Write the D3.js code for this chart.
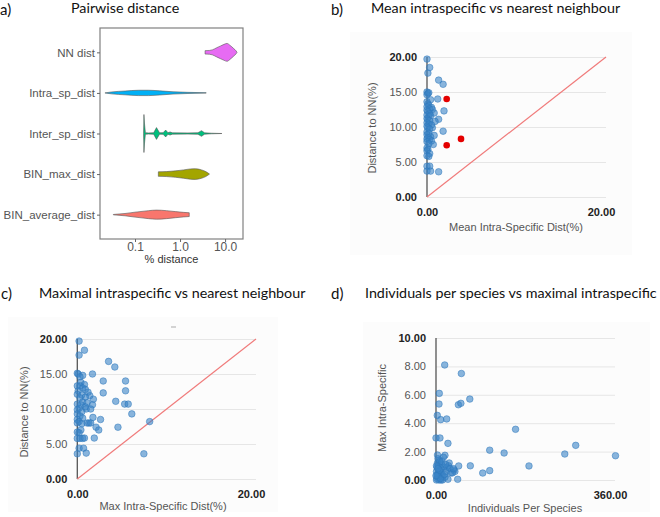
<!DOCTYPE html>
<html><head><meta charset="utf-8">
<script src="https://cdn.jsdelivr.net/npm/d3@7/dist/d3.min.js"></script>
<style>
body{margin:0;background:#fff;}
svg{display:block;}
</style></head>
<body><svg id="chart" width="660" height="517"></svg>
<script>
// ---------- Panel a: violin data (distance %, relative density) ----------
const violinCats = ["NN dist","Intra_sp_dist","Inter_sp_dist","BIN_max_dist","BIN_average_dist"];
const violinColors = ["#E76BF3","#00B0F6","#00BF7D","#A3A500","#F8766D"];
const nnDist   = [3.6,4.5,5.2,6.5,8,9.5,11,13,15.5,17.5,18.4];
const nnDens   = [0.09,0.1,0.13,0.24,0.34,0.42,0.47,0.36,0.2,0.08,0.0];
const intraDist= [0.0215,0.03,0.06,0.12,0.2,0.35,0.7,1.5,3.8];
const intraDens= [0.0,0.05,0.1,0.14,0.14,0.11,0.06,0.03,0.01];
const interDist= [0.155,0.158,0.162,0.17,0.2,0.26,0.3,0.35,0.42,0.48,0.54,0.6,0.68,1.5,2.5,3.0,3.5,5,8.5];
const interDens= [0.02,1.0,0.55,0.04,0.03,0.04,0.31,0.04,0.04,0.18,0.04,0.08,0.035,0.03,0.04,0.15,0.035,0.015,0.0];
const binMaxDist=[0.33,0.5,0.8,1.2,1.7,2.2,3.0,3.8,4.5];
const binMaxDens=[0.12,0.13,0.17,0.22,0.27,0.28,0.22,0.12,0.0];
const binAvgDist=[0.033,0.06,0.1,0.2,0.3,0.5,0.8,1.2,1.6];
const binAvgDens=[0.01,0.06,0.13,0.21,0.24,0.21,0.16,0.12,0.1];
const violinX = [nnDist,intraDist,interDist,binMaxDist,binAvgDist];
const violinD = [nnDens,intraDens,interDens,binMaxDens,binAvgDens];
const logTicks = [0.1,1,10];

// ---------- Panel b: mean intra vs NN ----------
const bMean = [0.0,0.3,0.1,1.3,1.8,0.0,0.1,0.0,0.2,1.2,0.4,0.0,0.1,0.2,0.0,0.5,0.3,0.0,0.6,1.9,0.1,0.8,0.3,0.0,0.2,0.4,1.3,0.0,0.1,0.9,0.3,0.0,0.2,0.5,0.0,0.1,0.6,0.3,1.8,0.0,0.2,0.0,0.8,0.4,0.1,0.0,0.3,0.5,0.0,0.7,0.2,0.0,0.1,0.0,0.3,0.0,0.2,0.0,0.3,0.0,0.4,1.3];
const bNN   = [19.7,18.5,17.7,16.7,16.1,15.0,14.8,14.6,14.9,14.0,13.9,13.6,13.3,13.1,12.9,12.8,12.6,12.4,12.5,12.3,12.2,12.0,11.9,11.7,11.5,11.6,11.1,11.2,11.0,10.8,10.9,10.6,10.4,10.3,10.1,9.9,9.9,9.7,9.4,9.3,9.1,8.9,8.8,8.6,8.5,8.3,8.2,8.0,7.9,7.5,7.6,7.0,6.8,6.6,6.2,5.9,5.8,4.4,4.4,3.7,3.7,3.6];
const bRedMean = [2.2,3.8,2.2];
const bRedNN   = [14.0,8.3,7.4];

// ---------- Panel c: max intra vs NN ----------
const cMax = [0.2,0.8,0.2,3.5,4.2,0.0,0.1,0.6,1.7,0.3,2.9,5.4,0.4,0.8,0.0,0.3,0.6,0.9,5.4,0.1,1.2,2.9,0.0,0.5,1.4,0.9,0.3,1.8,4.3,0.6,1.1,0.0,0.4,1.7,5.3,5.7,0.9,0.2,1.0,1.5,0.0,0.5,6.1,0.0,0.3,1.75,0.6,0.0,2.6,0.2,8.1,0.0,0.5,1.1,1.3,1.5,2.1,4.55,2.4,0.4,0.0,0.2,0.0,0.3,0.6,0.8,1.9,0.2,0.7,0.0,1.0,7.45];
const cNN  = [19.7,18.4,17.7,16.8,16.0,15.1,15.0,14.8,15.0,14.6,14.0,14.0,13.8,13.5,13.3,13.3,13.0,12.8,12.6,12.6,12.4,12.3,12.1,12.0,11.9,11.7,11.6,11.4,11.1,11.0,10.9,10.7,10.6,10.6,10.7,10.7,10.3,10.1,10.0,10.0,9.9,9.6,9.3,9.3,9.0,8.8,8.7,8.5,8.5,8.2,8.2,8.0,7.9,8.0,8.0,8.0,7.4,7.4,7.0,7.0,6.7,6.6,5.8,5.8,5.8,5.85,5.85,4.4,4.4,3.6,3.7,3.6];

// ---------- Panel d: individuals vs max intra ----------
const dInd = [17.5,51,6.6,6,45,50,68,2.6,9.4,21.5,160,0,8,24,108,137,259,281,361,187,69,45.6,94,108,43.6,24,18,3,36,38,26.5,2,4,6,8,10,12,3,5,7,9,14,16,11,13,1,2,4,6,8,20,22,25,28,30,18,15,5,3,10,12,19,33,35,1,2,7,9,17,0,1,4];
const dMax = [8.1,7.5,6.1,5.35,5.3,5.4,5.7,4.55,4.25,4.3,3.57,2.96,2.96,2.58,2.1,1.9,1.83,2.44,1.71,0.99,1.0,0.99,0.49,0.66,0.05,0.05,1.74,1.76,0.7,0.6,1.2,0.1,0.3,0.5,0.2,0.8,0.4,1.2,1.0,1.4,0.6,0.3,0.9,1.1,0.0,0.6,0.9,1.5,0.0,1.3,0.6,0.9,1.0,0.8,0.5,0.2,1.6,0.2,0.4,0.0,1.3,1.1,0.5,0.8,0.0,0.3,0.7,0.1,0.4,0.3,1.0,0.8];

const panelTitles = ["Pairwise distance","Mean intraspecific vs nearest neighbour","Maximal intraspecific vs nearest neighbour","Individuals per species vs maximal intraspecific"];
const panelLetters = ["a)","b)","c)","d)"];
const nnTicks = [0,5,10,15,20];
const dTicks = [0,2,4,6,8,10];

const svg = d3.select("#chart");
const titleFont = "Lato, 'Open Sans', sans-serif";
const axFont = "'Liberation Sans', Arial, sans-serif";

// ---------- titles ----------
const titlePos = [[71,13],[371,13],[39,298],[365,298]];
const letterPos = [[0,15],[331,15],[1,299],[331,299]];
panelTitles.forEach((t,i)=>{
  svg.append("text").attr("x",titlePos[i][0]).attr("y",titlePos[i][1])
    .attr("font-family",titleFont).attr("font-size",14.3).attr("fill","#111").text(t);
  svg.append("text").attr("x",letterPos[i][0]).attr("y",letterPos[i][1])
    .attr("font-family",titleFont).attr("font-size",15).attr("fill","#111").text(panelLetters[i]);
});

// ---------- Panel a ----------
(function(){
  const L=100,R=243,T=28,B=239;
  const x = d3.scaleLog().domain([0.0167,25]).range([L,R]);
  const y = d3.scalePoint().domain(violinCats).range([T,B]).padding(0.6);
  const half = d3.scaleLinear().domain([0,1]).range([0,19]);
  const g = svg.append("g");
  violinCats.forEach((c,i)=>{
    const pts = violinX[i].map((v,j)=>[v,violinD[i][j]]);
    const area = d3.area()
      .x(d=>x(d[0]))
      .y0(d=>y(c)-half(d[1]))
      .y1(d=>y(c)+half(d[1]))
      .curve(i===2 ? d3.curveLinear : d3.curveMonotoneX);
    g.append("path").datum(pts).attr("d",area)
      .attr("fill",violinColors[i]).attr("stroke","#555").attr("stroke-width",0.6)
      .attr("stroke-linejoin","round");
  });
  g.append("rect").attr("x",L).attr("y",T).attr("width",R-L).attr("height",B-T)
    .attr("fill","none").attr("stroke","#808080").attr("stroke-width",1.2);
  const ax = g.append("g").attr("transform",`translate(0,${B})`)
    .call(d3.axisBottom(x).tickValues(logTicks).tickFormat(d3.format(".1f")).tickSize(3).tickPadding(0));
  const ay = g.append("g").attr("transform",`translate(${L},0)`)
    .call(d3.axisLeft(y).tickSize(3).tickPadding(2));
  [ax,ay].forEach(a=>{
    a.select(".domain").remove();
    a.selectAll("line").attr("stroke","#666");
    a.selectAll("text").attr("font-family",axFont).attr("font-size",11.5).attr("fill","#555");
  });
  ax.selectAll("text").attr("font-size",12);
  g.append("text").attr("x",(L+R)/2).attr("y",263).attr("text-anchor","middle")
    .attr("font-family",axFont).attr("font-size",11).attr("fill","#333").text("% distance");
})();

// ---------- scatter helper ----------
function scatter(o){
  const g = svg.append("g");
  g.append("rect").attr("x",o.bg[0]).attr("y",o.bg[1]).attr("width",o.bg[2]).attr("height",o.bg[3]).attr("fill","#fcfcfc");
  const x = d3.scaleLinear().domain(o.xd).range([o.L,o.R]);
  const y = d3.scaleLinear().domain(o.yd).range([o.B,o.T]);
  const gy = g.append("g").attr("transform",`translate(${o.L},0)`)
    .call(d3.axisLeft(y).tickValues(o.yt).tickSize(-(o.R-o.L)).tickPadding(10).tickFormat(d3.format(".2f")));
  gy.select(".domain").remove();
  gy.selectAll("line").attr("stroke","#e6e6e6");
  gy.selectAll("text").attr("font-family",axFont).attr("font-size",11)
    .attr("fill",(d,i)=> (i===0||i===o.yt.length-1)?"#222":"#555")
    .attr("font-weight",(d,i)=> (i===0||i===o.yt.length-1)?"bold":"normal");
  const gx = g.append("g").attr("transform",`translate(0,${o.B})`)
    .call(d3.axisBottom(x).tickValues(o.xd).tickSize(0).tickPadding(11).tickFormat(d3.format(".2f")));
  gx.select(".domain").remove();
  gx.selectAll("text").attr("font-family",axFont).attr("font-size",11).attr("font-weight","bold").attr("fill","#222")
    .attr("dx",(d,i)=> i===1? -5:0);
  g.append("line").attr("x1",x(0)).attr("x2",x(0)).attr("y1",y(o.yd[0])).attr("y2",y(o.yd[1]))
    .attr("stroke","#555").attr("stroke-width",1.3);
  if(o.diag){
    g.append("line").attr("x1",x(0)).attr("y1",y(0)).attr("x2",x(o.xd[1])).attr("y2",y(o.yd[1]))
      .attr("stroke","#f07a7a").attr("stroke-width",1.2);
  }
  g.append("g").selectAll("circle").data(o.xs.map((v,i)=>[v,o.ys[i]])).join("circle")
    .attr("cx",d=>x(d[0])).attr("cy",d=>y(d[1])).attr("r",3.3)
    .attr("fill","#3a84c6").attr("fill-opacity",0.6)
    .attr("stroke","#2f78bb").attr("stroke-opacity",0.65).attr("stroke-width",0.8);
  if(o.rx){
    g.append("g").selectAll("circle").data(o.rx.map((v,i)=>[v,o.ry[i]])).join("circle")
      .attr("cx",d=>x(d[0])).attr("cy",d=>y(d[1])).attr("r",3.3).attr("fill","#e40000");
  }
  g.append("text").attr("x",o.xtPos[0]).attr("y",o.xtPos[1]).attr("text-anchor","middle")
    .attr("font-family",axFont).attr("font-size",11).attr("fill","#555").text(o.xt);
  g.append("text").attr("transform",`translate(${o.ytPos[0]},${o.ytPos[1]}) rotate(-90)`).attr("text-anchor","middle")
    .attr("font-family",axFont).attr("font-size",11).attr("fill","#555").text(o.yt2);
  return g;
}

scatter({L:427,R:606,T:57,B:197,xd:[0,20],yd:[0,20],yt:nnTicks,diag:true,
  xs:bMean,ys:bNN,rx:bRedMean,ry:bRedNN,bg:[350,32,282,223],
  xt:"Mean Intra-Specific Dist(%)",xtPos:[516,231],yt2:"Distance to NN(%)",ytPos:[376,128]});
scatter({L:77.3,R:256,T:339,B:479,xd:[0,20],yd:[0,20],yt:nnTicks,diag:true,
  xs:cMax,ys:cNN,bg:[8,317,270,195],
  xt:"Max Intra-Specific Dist(%)",xtPos:[163,510],yt2:"Distance to NN(%)",ytPos:[28,412]});
scatter({L:436,R:615,T:338,B:480,xd:[0,360],yd:[0,10],yt:dTicks,diag:false,
  xs:dInd,ys:dMax,bg:[363,322,287,190],
  xt:"Individuals Per Species",xtPos:[525,512],yt2:"Max Intra-Specific",ytPos:[386,408]});
// small stray mark in panel c
svg.append("line").attr("x1",171).attr("x2",176).attr("y1",327).attr("y2",327).attr("stroke","#aaa").attr("stroke-width",1);
</script>
</body></html>
